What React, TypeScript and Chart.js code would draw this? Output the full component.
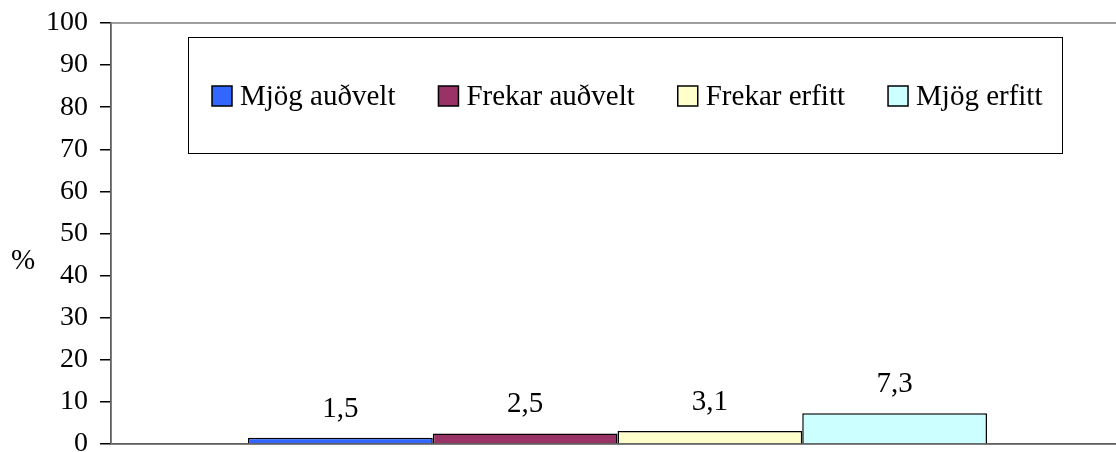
import React, { useEffect, useRef } from "react";
import { Chart, registerables } from "chart.js";

Chart.register(...registerables);

const categories = [""];
const seriesLabels = ["Mjög auðvelt", "Frekar auðvelt", "Frekar erfitt", "Mjög erfitt"];
const seriesValues = [1.5, 2.5, 3.1, 7.3];
const seriesColors = ["#3366FF", "#993366", "#FFFFCC", "#CCFFFF"];
const yTickValues = [0, 10, 20, 30, 40, 50, 60, 70, 80, 90, 100];
const yAxisLabel = "%";

const FONT = "'Liberation Serif', 'Times New Roman', serif";
const FS = 28;
const FS_LEG = 29;

const plotBorder = {
  id: "plotBorder",
  beforeDatasetsDraw(chart: any) {
    const { ctx, chartArea } = chart;
    ctx.save();
    ctx.strokeStyle = "#808080";
    ctx.lineWidth = 1.5;
    ctx.strokeRect(chartArea.left, chartArea.top, chartArea.right - chartArea.left, chartArea.bottom - chartArea.top);
    ctx.restore();
  },
};

const valueLabels = {
  id: "valueLabels",
  afterDatasetsDraw(chart: any) {
    const { ctx } = chart;
    ctx.save();
    ctx.font = `${FS_LEG}px ${FONT}`;
    ctx.fillStyle = "#000";
    ctx.textAlign = "center";
    ctx.textBaseline = "alphabetic";
    chart.data.datasets.forEach((ds: any, i: number) => {
      const meta = chart.getDatasetMeta(i);
      meta.data.forEach((bar: any, j: number) => {
        const v = ds.data[j];
        ctx.fillText(String(v).replace(".", ","), bar.x, bar.y - 21);
      });
    });
    ctx.restore();
  },
};

const boxLegend = {
  id: "boxLegend",
  afterDraw(chart: any) {
    const { ctx, chartArea } = chart;
    const bx = chartArea.left + 77;
    const by = chartArea.top + 14;
    const bw = 874;
    const bh = 116;
    ctx.save();
    ctx.fillStyle = "#fff";
    ctx.fillRect(bx, by, bw, bh);
    ctx.strokeStyle = "#000";
    ctx.lineWidth = 1;
    ctx.strokeRect(bx + 0.5, by + 0.5, bw, bh);
    ctx.font = `${FS_LEG}px ${FONT}`;
    const sw = 20;
    const gapText = 8;
    const gapItem = 43;
    let x = bx + 24;
    const cy = by + 59;
    chart.data.datasets.forEach((ds: any) => {
      const w = ctx.measureText(ds.label).width;
      ctx.fillStyle = ds.backgroundColor;
      ctx.fillRect(x, cy - sw / 2, sw, sw);
      ctx.strokeStyle = "#000";
      ctx.lineWidth = 1.5;
      ctx.strokeRect(x, cy - sw / 2, sw, sw);
      ctx.fillStyle = "#000";
      ctx.textAlign = "left";
      ctx.textBaseline = "middle";
      ctx.fillText(ds.label, x + sw + gapText, cy + 1);
      x += sw + gapText + w + gapItem;
    });
    // axis label
    ctx.textAlign = "center";
    ctx.fillText(yAxisLabel, 23, chartArea.top + 238);
    ctx.restore();
  },
};

export default function App() {
  const ref = useRef<HTMLCanvasElement | null>(null);
  useEffect(() => {
    if (!ref.current) return;
    const chart = new Chart(ref.current, {
      type: "bar",
      data: {
        labels: categories,
        datasets: seriesLabels.map((label, i) => ({
          label,
          data: [seriesValues[i]],
          backgroundColor: seriesColors[i],
          borderColor: "#000",
          borderWidth: 1.5,
          categoryPercentage: 0.7295,
          barPercentage: 1,
        })),
      },
      options: {
        animation: false,
        responsive: false,
        layout: { padding: { left: 0, top: 22, right: 6, bottom: 26 } },
        plugins: {
          legend: { display: false },
          tooltip: { enabled: false },
        },
        scales: {
          x: {
            ticks: { display: false, padding: 0 },
            grid: { display: false },
            border: { color: "#000", width: 1.5 },
          },
          y: {
            min: 0,
            max: 100,
            afterFit: (scale: any) => {
              scale.width = 111;
            },
            afterBuildTicks: (scale: any) => {
              scale.ticks = yTickValues.map((v) => ({ value: v }));
            },
            ticks: {
              color: "#000",
              padding: 12,
              font: { family: FONT, size: FS, lineHeight: 1 },
            },
            grid: {
              drawOnChartArea: false,
              drawTicks: true,
              tickLength: 11,
              color: "#000",
              lineWidth: 1.5,
            },
            border: { color: "#000", width: 1.5 },
          },
        },
      },
      plugins: [plotBorder, valueLabels, boxLegend],
    });
    return () => chart.destroy();
  }, []);
  return (
    <div style={{ position: "fixed", left: 0, top: 0, width: 1116, height: 452, overflow: "hidden", background: "#fff" }}>
      <canvas ref={ref} width={1130} height={481} style={{ width: 1130, height: 481, display: "block", marginTop: -3 }} />
    </div>
  );
}
